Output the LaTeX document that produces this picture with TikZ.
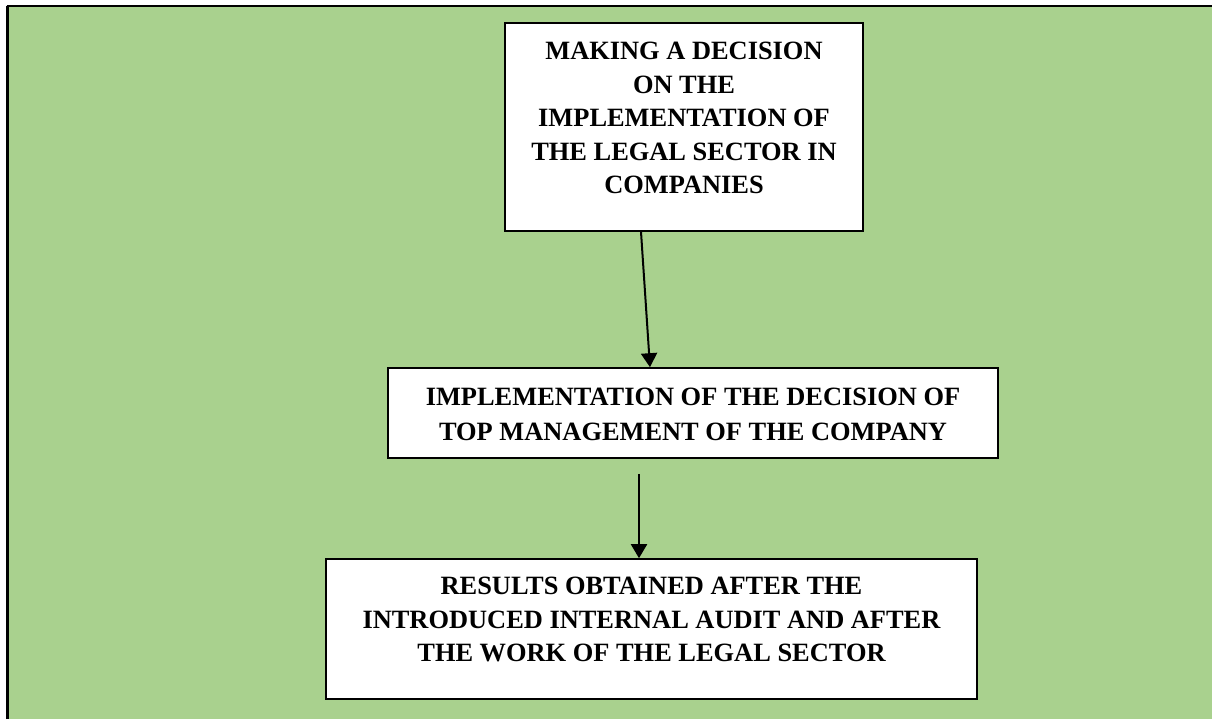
\documentclass[tikz,border=0pt]{standalone}
\usepackage{fontspec}
\setmainfont{Liberation Serif}
\usetikzlibrary{arrows.meta}
\definecolor{bggreen}{RGB}{169,209,142}
\begin{document}
\begin{tikzpicture}[x=0.5pt,y=-0.5pt,
  box/.style={draw=black,line width=0.8pt,fill=white,rectangle,inner sep=0pt},
  boxtext/.style={align=center,inner sep=0pt,font=\bfseries\fontsize{13.2}{16.75}\selectfont},
  arr/.style={line width=1pt,-{Triangle[width=8pt,length=7pt]}}]
\useasboundingbox (0,0) rectangle (1212,719);
\fill[bggreen] (8,6) rectangle (1212,719);
\draw[line width=1.5pt] (7.5,719) -- (7.5,5.5);
\draw[line width=1pt] (6.5,6) -- (1212,6);

\node[box,minimum width=179pt,minimum height=104pt] (b1) at (684,127) {};
\node[box,minimum width=305pt,minimum height=45pt] (b2) at (693,413) {};
\node[box,minimum width=325.5pt,minimum height=70pt] (b3) at (651.5,629) {};

\node[boxtext] (t1) at (684,118) {MAKING A DECISION\\ON THE\\IMPLEMENTATION OF\\THE LEGAL SECTOR IN\\COMPANIES};
\node[boxtext,font=\bfseries\fontsize{13.2}{17.5}\selectfont] (t2) at (693,414.5) {IMPLEMENTATION OF THE DECISION OF\\TOP MANAGEMENT OF THE COMPANY};
\node[boxtext] (t3) at (651.5,619.5) {RESULTS OBTAINED AFTER THE\\INTRODUCED INTERNAL AUDIT AND AFTER\\THE WORK OF THE LEGAL SECTOR};

\draw[arr] ([xshift=-21.5pt]b1.south) -- ([xshift=-21.5pt]b2.north);
\draw[arr] ([xshift=-27pt,yshift=-7.5pt]b2.south) -- ([xshift=-6.25pt]b3.north);
\end{tikzpicture}
\end{document}
